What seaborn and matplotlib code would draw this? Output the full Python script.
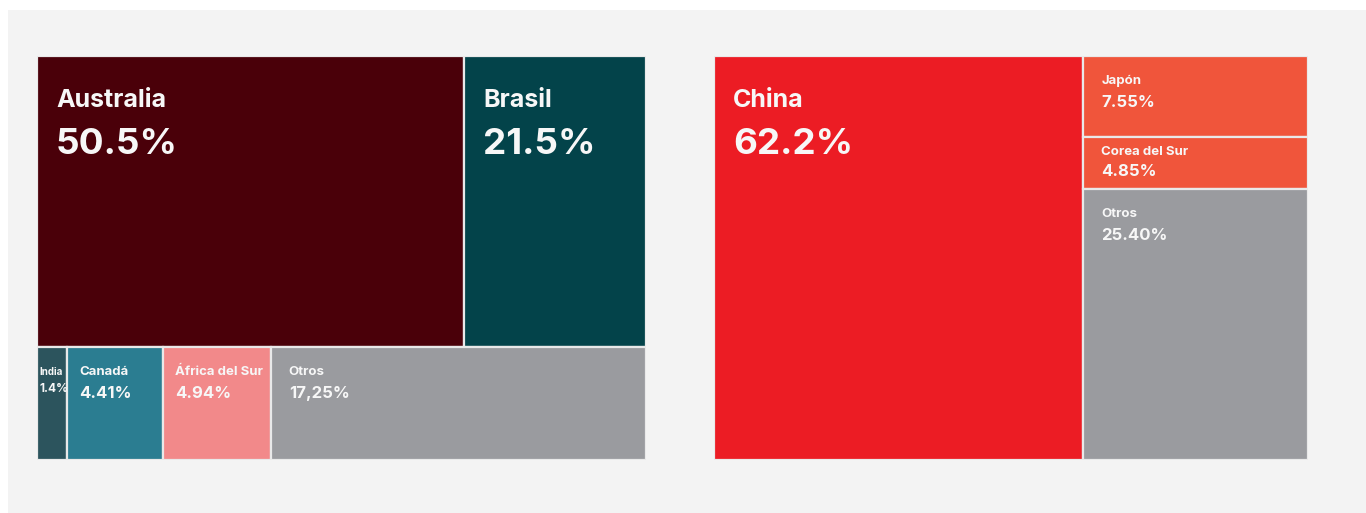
import matplotlib
matplotlib.use("Agg")
import matplotlib.pyplot as plt
from matplotlib.patches import Rectangle
import seaborn as sns

# ---- Exportaciones (left treemap) ----
exp_top_names = ["Australia", "Brasil"]
exp_top_values = [50.5, 21.5]
exp_top_labels = ["50.5%", "21.5%"]

exp_bottom_names = ["India", "Canadá", "África del Sur", "Otros"]
exp_bottom_values = [1.4, 4.41, 4.94, 17.25]
exp_bottom_labels = ["1.4%", "4.41%", "4.94%", "17,25%"]

# ---- Importaciones (right treemap) ----
imp_main_names = ["China"]
imp_main_values = [62.2]
imp_main_labels = ["62.2%"]

imp_side_names = ["Japón", "Corea del Sur", "Otros"]
imp_side_values = [7.55, 4.85, 25.40]
imp_side_labels = ["7.55%", "4.85%", "25.40%"]

# ---- colours ----
exp_top_colors = ["#4a0009", "#03434a"]
exp_bottom_colors = ["#2c545d", "#2b7d91", "#f2898a", "#9a9b9f"]
imp_main_colors = ["#ec1c24"]
imp_side_colors = ["#f0553b", "#f0553b", "#9a9b9f"]

sns.set_theme(style="white")
plt.rcParams["font.family"] = ["Inter", "Lato", "DejaVu Sans"]

PX = 0.72  # points per pixel at dpi=100
BG = "#f3f3f3"
EDGE = "#e9e9e9"
TXT = "#f7f7f7"

# label styles: (name size, value size, x pad px, name offset px, value offset px)
STYLE_BIG = (18, 26.5, 19, 33, 72)
STYLE_SMALL = (9.5, 12, 18, 19, 39)
STYLE_TIGHT = (9.5, 12, 12, 19, 39)
STYLE_SHORT = (9.5, 12, 18, 9, 27)
STYLE_NARROW = (7, 8.5, 2, 20, 36)

fig = plt.figure(figsize=(13.66, 5.13), dpi=100, facecolor=BG)
# thin white margins on the top and left of the page
fig.patches.append(Rectangle((0, 1 - 10 / 513), 1, 10 / 513, transform=fig.transFigure,
                             facecolor="white", edgecolor="none", zorder=0))
fig.patches.append(Rectangle((0, 0), 8 / 1366, 1, transform=fig.transFigure,
                             facecolor="white", edgecolor="none", zorder=0))


def label_cell(ax, x0, y_top, name, label, style):
    s_name, s_val, pad_x, off_name, off_val = style
    ax.annotate(name, xy=(x0, y_top), xytext=(pad_x * PX, -off_name * PX),
                textcoords="offset points", ha="left", va="top",
                fontsize=s_name, fontweight="bold", color=TXT, zorder=5)
    ax.annotate(label, xy=(x0, y_top), xytext=(pad_x * PX, -off_val * PX),
                textcoords="offset points", ha="left", va="top",
                fontsize=s_val, fontweight="bold", color=TXT, zorder=5)


def draw_row(ax, y_bottom, height, names, values, labels, colors, big):
    total = sum(values)
    lefts, acc = [], 0.0
    for v in values:
        lefts.append(acc / total)
        acc += v
    widths = [v / total for v in values]
    ax.bar(lefts, [height] * len(values), width=widths, bottom=y_bottom,
           align="edge", color=colors, edgecolor=EDGE, linewidth=1.6, zorder=2)
    for x0, w, n, l in zip(lefts, widths, names, labels):
        if big:
            st = STYLE_BIG
        elif w < 0.07:
            st = STYLE_NARROW
        elif w < 0.2:
            st = STYLE_TIGHT
        else:
            st = STYLE_SMALL
        label_cell(ax, x0, y_bottom + height, n, l, st)


def draw_column(ax, x0, width, names, values, labels, colors, big):
    total = sum(values)
    tops, acc = [], 1.0
    for v in values:
        tops.append(acc)
        acc -= v / total
    heights = [v / total for v in values]
    bottoms = [t - h for t, h in zip(tops, heights)]
    ax.bar([x0] * len(values), heights, width=width, bottom=bottoms,
           align="edge", color=colors, edgecolor=EDGE, linewidth=1.6, zorder=2)
    for t, h, n, l in zip(tops, heights, names, labels):
        if big:
            st = STYLE_BIG
        elif h < 0.17:
            st = STYLE_SHORT
        else:
            st = STYLE_SMALL
        label_cell(ax, x0, t, n, l, st)


def setup(ax):
    ax.set_xlim(0, 1)
    ax.set_ylim(0, 1)
    ax.set_axis_off()


# left treemap: two horizontal bands, heights proportional to their totals
ax1 = fig.add_axes([37 / 1366, 53 / 513, 609 / 1366, 404 / 513])
setup(ax1)
grand = sum(exp_top_values) + sum(exp_bottom_values)
h_top = sum(exp_top_values) / grand
h_bot = sum(exp_bottom_values) / grand
draw_row(ax1, h_bot, h_top, exp_top_names, exp_top_values, exp_top_labels,
         exp_top_colors, big=True)
draw_row(ax1, 0, h_bot, exp_bottom_names, exp_bottom_values, exp_bottom_labels,
         exp_bottom_colors, big=False)

# right treemap: two vertical bands, widths proportional to their totals
ax2 = fig.add_axes([714 / 1366, 53 / 513, 594 / 1366, 404 / 513])
setup(ax2)
grand2 = sum(imp_main_values) + sum(imp_side_values)
w_main = sum(imp_main_values) / grand2
w_side = sum(imp_side_values) / grand2
draw_column(ax2, 0, w_main, imp_main_names, imp_main_values, imp_main_labels,
            imp_main_colors, big=True)
draw_column(ax2, w_main, w_side, imp_side_names, imp_side_values, imp_side_labels,
            imp_side_colors, big=False)

fig.savefig("out.png", dpi=100, facecolor=BG)
